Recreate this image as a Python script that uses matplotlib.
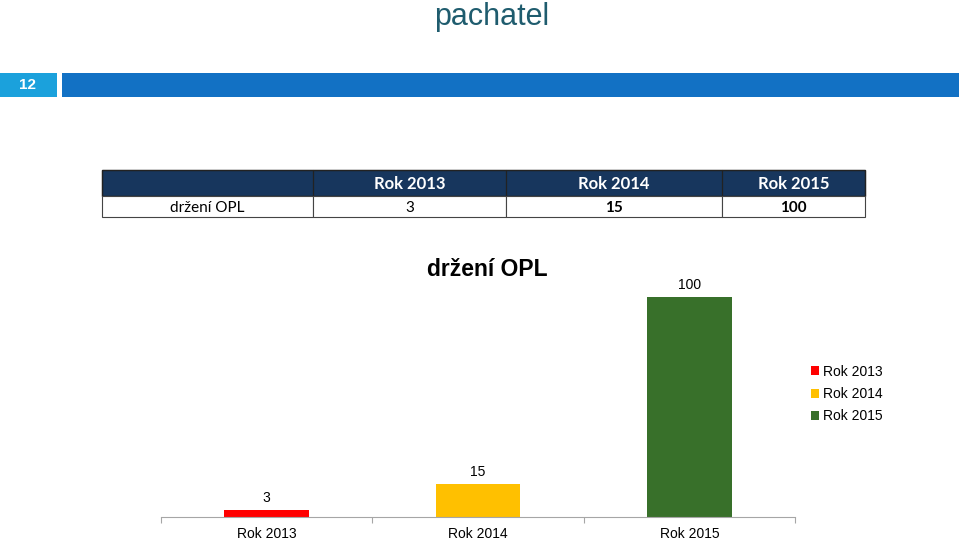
import matplotlib.pyplot as plt
from matplotlib.patches import Rectangle

years = ["Rok 2013", "Rok 2014", "Rok 2015"]
row_label = "držení OPL"
values = [3, 15, 100]
bold_cells = [False, True, True]
bar_colors = ["#ff0000", "#ffc000", "#38702a"]
slide_title = "pachatel"
slide_number = "12"

fig = plt.figure(figsize=(9.59, 5.4), dpi=100)
W, H = 959, 540

# overlay in pixel coordinates for the slide decorations and the table
bg = fig.add_axes([0, 0, 1, 1])
bg.set_xlim(0, W)
bg.set_ylim(H, 0)
bg.axis("off")

bg.text(492, 17, slide_title, ha="center", va="center", fontsize=22,
        color="#1f5c6e", family="Liberation Sans")
bg.add_patch(Rectangle((0, 73), 57, 24, color="#1ba1dc", lw=0))
bg.text(28, 85, slide_number, ha="center", va="center", fontsize=11,
        color="white", fontweight="bold", family="Liberation Sans")
bg.add_patch(Rectangle((62, 73), W - 62, 24, color="#1271c4", lw=0))

# table
col_edges = [102, 313, 506, 722, 865]
head_top, head_bot, row_bot = 170, 196, 217
bg.add_patch(Rectangle((col_edges[0], head_top), col_edges[-1] - col_edges[0],
                       head_bot - head_top, facecolor="#17365d",
                       edgecolor="#222222", lw=1))
for i in range(4):
    x0, x1 = col_edges[i], col_edges[i + 1]
    bg.add_patch(Rectangle((x0, head_top), x1 - x0, head_bot - head_top,
                           facecolor="none", edgecolor="#222222", lw=0.8))
    bg.add_patch(Rectangle((x0, head_bot), x1 - x0, row_bot - head_bot,
                           facecolor="white", edgecolor="#444444", lw=0.8))
for i, y in enumerate(years):
    cx = (col_edges[i + 1] + col_edges[i + 2]) / 2
    bg.text(cx, (head_top + head_bot) / 2 + 1, y, ha="center", va="center",
            fontsize=12, color="white", fontweight="bold", family="Lato")
    bg.text(cx, (head_bot + row_bot) / 2 + 1, str(values[i]), ha="center",
            va="center", fontsize=11, color="black", family="Lato",
            fontweight="bold" if bold_cells[i] else "normal")
bg.text((col_edges[0] + col_edges[1]) / 2, (head_bot + row_bot) / 2 + 1,
        row_label, ha="center", va="center", fontsize=11, family="Lato")

# bar chart
ax = fig.add_axes([161 / W, 23 / H, 634 / W, 220 / H])
x = range(len(years))
bars = ax.bar(x, values, width=0.4, color=bar_colors, label=years)
ax.set_xlim(-0.5, 2.5)
ax.set_ylim(0, 100)
for xi, v in zip(x, values):
    ax.text(xi, v + 2.3, str(v), ha="center", va="bottom", fontsize=10,
            family="Liberation Sans", clip_on=False)
for s in ["top", "left", "right"]:
    ax.spines[s].set_visible(False)
ax.spines["bottom"].set_color("#a6a6a6")
ax.set_yticks([])
ax.set_xticks([-0.5, 0.5, 1.5, 2.5])
ax.set_xticklabels([])
ax.tick_params(axis="x", which="major", length=4, color="#a6a6a6")
ax.set_xticks(list(x), minor=True)
ax.set_xticklabels(years, minor=True, fontsize=10, family="Liberation Sans")
ax.tick_params(axis="x", which="minor", length=0, pad=7)
ax.patch.set_alpha(0)

fig.text(487 / W, 1 - 270 / H, row_label, ha="center", va="center",
         fontsize=16.5, fontweight="bold", family="Liberation Sans")

fig.legend(handles=list(bars), labels=years, loc="center left",
           bbox_to_anchor=(798 / W, 1 - 394 / H), frameon=False,
           handlelength=0.6, handleheight=0.6,
           handletextpad=0.3, labelspacing=0.6,
           prop={"family": "Liberation Sans", "size": 10})

fig.savefig("out.png", dpi=100)
